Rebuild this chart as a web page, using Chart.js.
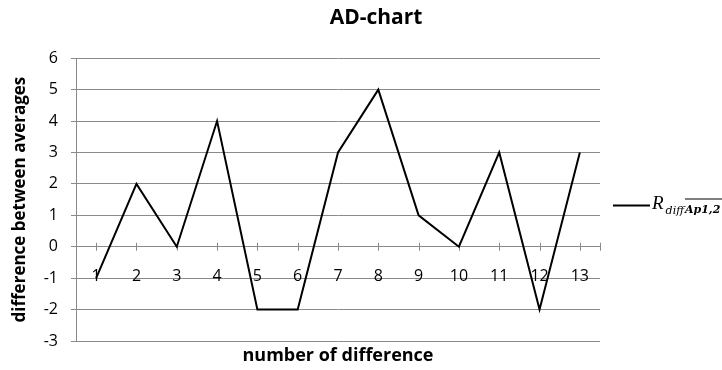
<!DOCTYPE html>
<html><head><meta charset="utf-8">
<script src="https://cdn.jsdelivr.net/npm/chart.js@4/dist/chart.umd.min.js"></script>
<style>html,body{margin:0;padding:0;background:#fff;overflow:hidden}#wrap{width:722px;height:370px;position:relative}</style>
</head><body><div id="wrap"><canvas id="c"></canvas></div>
<script>
const categories = ['1','2','3','4','5','6','7','8','9','10','11','12','13'];
const values = [-1, 2, 0, 4, -2, -2, 3, 5, 1, 0, 3, -2, 3];
const yMin = -3, yMax = 6, yStep = 1;
const chartTitle = 'AD-chart';
const yTitle = 'difference between averages';
const xTitle = 'number of difference';
const legendMain = 'R';
const legendSub = 'diff';
const legendOver = 'Ap1,2';

const GRID = '#8a8a8a';
const FONT = '"Open Sans", "DejaVu Sans", sans-serif';

const crossTicks = {
  id: 'crossTicks',
  beforeDatasetsDraw(chart) {
    const x = chart.scales.x, y = chart.scales.y;
    const y0 = y.getPixelForValue(0);
    const ctx = chart.ctx;
    ctx.save();
    ctx.strokeStyle = GRID; ctx.lineWidth = 1;
    const xs = categories.map((c, i) => x.getPixelForValue(i));
    xs.push(chart.chartArea.right);
    xs.forEach(px => {
      const p = Math.round(px) + 0.5;
      ctx.beginPath(); ctx.moveTo(p, y0 - 4); ctx.lineTo(p, y0 + 4); ctx.stroke();
    });
    ctx.restore();
  }
};

const titleShift = {
  id: 'titleShift',
  afterLayout(chart) {
    const t = chart.titleBlock;
    if (t) { t.left += 76; t.right += 76; }
  }
};

const customLegend = {
  id: 'customLegend',
  afterDraw(chart) {
    const ctx = chart.ctx, a = chart.chartArea;
    const ly = Math.round((a.top + a.bottom) / 2) + 5.5;
    const x0 = a.right + 13;
    ctx.save();
    ctx.strokeStyle = '#000'; ctx.lineWidth = 2;
    ctx.beginPath(); ctx.moveTo(x0, ly); ctx.lineTo(x0 + 37, ly); ctx.stroke();
    ctx.fillStyle = '#000';
    ctx.textBaseline = 'alphabetic';
    ctx.font = 'italic 19px "Liberation Serif", "DejaVu Serif", serif';
    let tx = x0 + 39;
    ctx.fillText(legendMain, tx, ly + 3);
    tx += ctx.measureText(legendMain).width + 2;
    ctx.font = 'italic 11px "DejaVu Serif", serif';
    ctx.fillText(legendSub, tx, ly + 8);
    tx += ctx.measureText(legendSub).width + 1;
    ctx.font = 'italic bold 11px "DejaVu Serif", serif';
    ctx.fillText(legendOver, tx, ly + 7);
    const w = ctx.measureText(legendOver).width;
    ctx.lineWidth = 1;
    ctx.beginPath(); ctx.moveTo(tx, ly - 6.5); ctx.lineTo(tx + w + 4, ly - 6.5); ctx.stroke();
    ctx.restore();
  }
};

new Chart(document.getElementById('c'), {
  type: 'line',
  data: {
    labels: categories,
    datasets: [{
      label: 'R diff Ap1,2',
      data: values,
      borderColor: '#000',
      backgroundColor: '#000',
      borderWidth: 2,
      pointRadius: 0,
      tension: 0,
      xAxisID: 'x',
      yAxisID: 'y'
    }]
  },
  options: {
    responsive: true,
    maintainAspectRatio: false,
    animation: false,
    layout: { padding: { left: 0, right: 122, top: 0, bottom: 0 } },
    plugins: {
      legend: { display: false },
      tooltip: { enabled: false },
      title: {
        display: true,
        text: chartTitle,
        color: '#000',
        font: { family: FONT, size: 21, weight: 'bold' },
        padding: { top: 5, bottom: 28 }
      }
    },
    scales: {
      x: {
        type: 'category',
        position: { y: 0 },
        offset: true,
        grid: { display: false, drawTicks: false },
        border: { display: true, color: GRID, width: 1 },
        ticks: { color: '#000', font: { family: FONT, size: 16 }, padding: 20, autoSkip: false, maxRotation: 0 }
      },
      x2: {
        type: 'category',
        position: 'bottom',
        offset: true,
        grid: { display: false, drawTicks: false },
        border: { display: false },
        ticks: { display: false },
        title: { display: true, text: xTitle, color: '#000', font: { family: FONT, size: 18, weight: 'bold' }, padding: { top: 4, bottom: 3 } },
        afterFit(s) { s.height = 29; }
      },
      y: {
        type: 'linear',
        min: yMin, max: yMax,
        grid: { color: GRID, tickLength: 5, lineWidth: 1 },
        border: { display: true, color: GRID, width: 1 },
        ticks: { stepSize: yStep, color: '#000', font: { family: FONT, size: 16 }, padding: 13 },
        title: { display: true, text: yTitle, color: '#000', font: { family: FONT, size: 17, weight: 'bold' }, padding: { top: 10, bottom: 0 } },
        afterFit(s) { s.width = 76; }
      }
    }
  },
  plugins: [crossTicks, titleShift, customLegend]
});
</script>
</body></html>
